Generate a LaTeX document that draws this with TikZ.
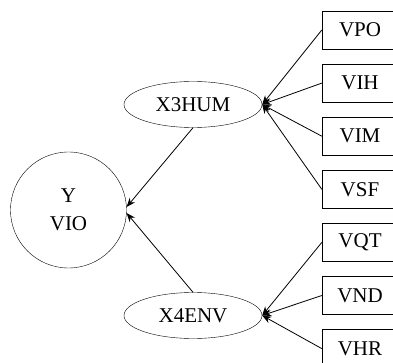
\documentclass[tikz,border=0pt]{standalone}
\usepackage{fontspec}
\setmainfont{Liberation Serif}
\usetikzlibrary{shapes.geometric, arrows.meta, positioning}

\begin{document}
\begin{tikzpicture}[
    x=1pt, y=-1pt,
    font=\fontsize{21}{28}\selectfont,
    latent/.style={
        ellipse,
        draw,
        minimum width=138pt,
        minimum height=46pt,
        inner sep=0pt
    },
    target/.style={
        circle,
        draw,
        minimum size=116pt,
        inner sep=0pt,
        align=center
    },
    indicator/.style={
        rectangle,
        draw,
        minimum width=76pt,
        minimum height=38pt,
        inner sep=0pt
    },
    arrow/.style={
        -{Stealth[length=9pt, width=7pt]},
        thick
    }
]
\useasboundingbox (0,0) rectangle (393,363);

% Dependent construct
\node[target] (vio) at (68.5,210) {Y\\VIO};

% Latent constructs
\node[latent] (hum) at (193,104.5) {X3HUM};
\node[latent] (env) at (193,315.5) {X4ENV};

% Indicators of X3HUM
\node[indicator] (vpo) at (360,30) {VPO};
\node[indicator, below=14.7pt of vpo] (vih) {VIH};
\node[indicator, below=14.7pt of vih] (vim) {VIM};
\node[indicator, below=14.7pt of vim] (vsf) {VSF};

% Indicators of X4ENV
\node[indicator, below=14.7pt of vsf] (vqt) {VQT};
\node[indicator, below=14.7pt of vqt] (vnd) {VND};
\node[indicator, below=14.7pt of vnd] (vhr) {VHR};

% Arrows
\foreach \v in {vpo, vih, vim, vsf}
    \draw[arrow] (\v.west) -- (hum.east);
\foreach \v in {vqt, vnd, vhr}
    \draw[arrow] (\v.west) -- (env.east);

\draw[arrow] (hum.south) -- (vio.3);
\draw[arrow] (env.north) -- (vio.-3);

\end{tikzpicture}
\end{document}
